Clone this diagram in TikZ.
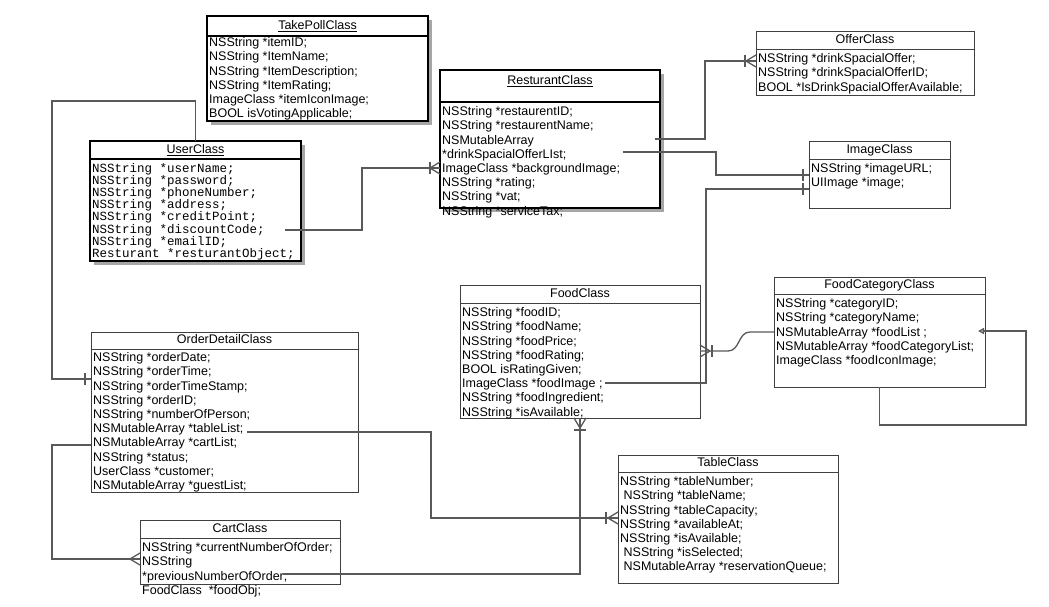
\documentclass[tikz,border=0pt]{standalone}
\usepackage{fontspec}
\setmainfont{Liberation Sans}
\setmonofont{Liberation Mono}
\usetikzlibrary{positioning,arrows.meta,shadows}

\newcommand{\classfont}{\fontsize{12.5}{14.2}\selectfont}
\newcommand{\codefont}{\ttfamily\fontsize{12.5}{12.2}\selectfont}

\tikzset{
  classhead/.style={draw=black!75, fill=white, line width=0.9pt, inner sep=0pt, outer sep=0pt, font=\classfont, text height=9pt, text depth=2.5pt},
  classbody/.style={draw=black!75, fill=white, line width=0.9pt, inner sep=0pt, outer sep=0pt},
  boldclass/.style={draw=black, line width=2pt, drop shadow={shadow xshift=4pt, shadow yshift=-4pt, fill=black!35, opacity=1}},
  fields/.style={align=left, inner xsep=2pt, inner ysep=4.5pt, font=\classfont},
  conn/.style={draw=black!65, line width=1.3pt},
  pics/crowsfoot/.style={code={\draw[conn] (-10,0) -- (0,6) (-10,0) -- (0,-6);}},
  pics/onemark/.style={code={\draw[conn] (-#1,-6) -- (-#1,6);}},
}

\begin{document}
\begin{tikzpicture}[x=1pt, y=-1pt]
    \useasboundingbox (0,0) rectangle (1049,606);

    % TakePollClass
    \node (takepollhead) [classhead, boldclass, anchor=north west, minimum width=221pt, minimum height=20pt] at (207,16) {\underline{TakePollClass}};
    \node (takepollbody) [classbody, boldclass, below=0pt of takepollhead, minimum width=221pt, minimum height=85pt] {};
    \node (takepollfields) [fields, inner ysep=1.5pt, below right=0pt and 0pt of takepollbody.north west] {NSString *itemID;\\NSString *ItemName;\\NSString *ItemDescription;\\NSString *ItemRating;\\ImageClass *itemIconImage;\\BOOL isVotingApplicable;};

    % UserClass
    \node (userhead) [classhead, boldclass, anchor=north west, minimum width=211pt, minimum height=18pt] at (90,141) {\underline{UserClass}};
    \node (userbody) [classbody, boldclass, below=0pt of userhead, minimum width=211pt, minimum height=102pt] {};
    \node (userfields) [fields, font=\codefont, inner ysep=3.8pt, below right=0pt and 0pt of userbody.north west] {NSString *userName;\\NSString *password;\\NSString *phoneNumber;\\NSString *address;\\NSString *creditPoint;\\NSString *discountCode;\\NSString *emailID;\\Resturant *resturantObject;};

    % ResturantClass
    \node (resthead) [classhead, boldclass, anchor=north west, minimum width=220pt, minimum height=32pt, text height=10pt, text depth=13.4pt] at (440,70) {\underline{ResturantClass}};
    \node (restbody) [classbody, boldclass, below=0pt of resthead, minimum width=220pt, minimum height=106pt] {};
    \node (restfields) [fields, below right=0pt and 0pt of restbody.north west] {NSString *restaurentID;\\NSString *restaurentName;\\NSMutableArray\\{}*drinkSpacialOfferLIst;\\ImageClass *backgroundImage;\\NSString *rating;\\NSString *vat;\\NSString *serviceTax;};

    % OfferClass
    \node (offerhead) [classhead, anchor=north west, minimum width=218pt, minimum height=18pt] at (756,31) {OfferClass};
    \node (offerbody) [classbody, below=0pt of offerhead, minimum width=218pt, minimum height=46pt] {};
    \node (offerfields) [fields, below right=0pt and 0pt of offerbody.north west] {NSString *drinkSpacialOffer;\\NSString *drinkSpacialOfferID;\\BOOL *IsDrinkSpacialOfferAvailable;};

    % ImageClass
    \node (imagehead) [classhead, anchor=north west, minimum width=141pt, minimum height=18pt] at (809,141) {ImageClass};
    \node (imagebody) [classbody, below=0pt of imagehead, minimum width=141pt, minimum height=49pt] {};
    \node (imagefields) [fields, below right=0pt and 0pt of imagebody.north west] {NSString *imageURL;\\UIImage *image;};

    % FoodClass
    \node (foodhead) [classhead, anchor=north west, minimum width=240pt, minimum height=18pt] at (460,285) {FoodClass};
    \node (foodbody) [classbody, below=0pt of foodhead, minimum width=240pt, minimum height=115pt] {};
    \node (foodfields) [fields, below right=0pt and 0pt of foodbody.north west] {NSString *foodID;\\NSString *foodName;\\NSString *foodPrice;\\NSString *foodRating;\\BOOL isRatingGiven;\\ImageClass *foodImage ;\\NSString *foodIngredient;\\NSString *isAvailable;};

    % FoodCategoryClass
    \node (cathead) [classhead, anchor=north west, minimum width=211pt, minimum height=17pt] at (774,277) {FoodCategoryClass};
    \node (catbody) [classbody, below=0pt of cathead, minimum width=211pt, minimum height=93pt] {};
    \node (catfields) [fields, below right=0pt and 0pt of catbody.north west] {NSString *categoryID;\\NSString *categoryName;\\NSMutableArray *foodList ;\\NSMutableArray *foodCategoryList;\\ImageClass *foodIconImage;};

    % OrderDetailClass
    \node (orderhead) [classhead, anchor=north west, minimum width=267pt, minimum height=17pt] at (91,332) {OrderDetailClass};
    \node (orderbody) [classbody, below=0pt of orderhead, minimum width=267pt, minimum height=143pt] {};
    \node (orderfields) [fields, inner ysep=3.5pt, below right=0pt and 0pt of orderbody.north west] {NSString *orderDate;\\NSString *orderTime;\\NSString *orderTimeStamp;\\NSString *orderID;\\NSString *numberOfPerson;\\NSMutableArray *tableList;\\NSMutableArray *cartList;\\NSString *status;\\UserClass *customer;\\NSMutableArray *guestList;};

    % TableClass
    \node (tablehead) [classhead, anchor=north west, minimum width=220pt, minimum height=17pt] at (618,455) {TableClass};
    \node (tablebody) [classbody, below=0pt of tablehead, minimum width=220pt, minimum height=111pt] {};
    \node (tablefields) [fields, below right=0pt and 0pt of tablebody.north west] {NSString *tableNumber;\\\hspace*{3.5pt}NSString *tableName;\\NSString *tableCapacity;\\NSString *availableAt;\\NSString *isAvailable;\\\hspace*{3.5pt}NSString *isSelected;\\\hspace*{3.5pt}NSMutableArray *reservationQueue;};

    % CartClass
    \node (carthead) [classhead, anchor=north west, minimum width=200pt, minimum height=18pt] at (140,520) {CartClass};
    \node (cartbody) [classbody, below=0pt of carthead, minimum width=200pt, minimum height=46pt] {};
    \node (cartfields) [fields, below right=0pt and 0pt of cartbody.north west] {NSString *currentNumberOfOrder;\\NSString\\{}*previousNumberOfOrder;\\FoodClass\ \ *foodObj;};

    % free ends and bends of the connectors
    \coordinate (userbend) at (52,101);
    \coordinate (userorder) at (52,379);
    \coordinate (userdisc) at (285,230);
    \coordinate (userrest) at (362,168);
    \coordinate (restdrink) at (655,139);
    \coordinate (restoffer) at (705,61);
    \coordinate (restbg) at (623,152);
    \coordinate (restimage) at (716,175);
    \coordinate (foodimg) at (605,383);
    \coordinate (foodimage) at (706,189);
    \coordinate (catcurve) at (750,332);
    \coordinate (foodcurve) at (728,351);
    \coordinate (catloop) at (1026,425);
    \coordinate (catloopend) at (978,331);
    \coordinate (ordertable) at (247,432);
    \coordinate (ordertablebend) at (431,518);
    \coordinate (ordercart) at (52,445);
    \coordinate (ordercartbend) at (52,559);
    \coordinate (cartprev) at (283,574);

    % UserClass -- OrderDetailClass
    \draw [conn] (userhead.north) |- (userbend) -- (userorder) -- (orderbody.west |- userorder);
    \pic at (orderbody.west |- userorder) {onemark=6};

    % UserClass -- ResturantClass
    \draw [conn] (userdisc) -| (userrest) -- (restbody.west |- userrest);
    \pic at (restbody.west |- userrest) {crowsfoot};
    \pic at (restbody.west |- userrest) {onemark=10};

    % ResturantClass -- OfferClass
    \draw [conn] (restdrink) -| (restoffer) -- (offerbody.west |- restoffer);
    \pic at (offerbody.west |- restoffer) {crowsfoot};
    \pic at (offerbody.west |- restoffer) {onemark=11};

    % ResturantClass -- ImageClass
    \draw [conn] (restbg) -| (restimage) -- (imagebody.west |- restimage);
    \pic at (imagebody.west |- restimage) {onemark=6};

    % FoodClass -- ImageClass
    \draw [conn] (foodimg) -| (foodimage) -- (imagebody.west |- foodimage);
    \pic at (imagebody.west |- foodimage) {onemark=6};

    % FoodCategoryClass -- FoodClass
    \draw [conn] (catbody.west |- catcurve) -- (catcurve) .. controls +(-12,0) and +(12,0) .. (foodcurve) -- (foodbody.east |- foodcurve);
    \pic [xscale=-1] at (foodbody.east |- foodcurve) {crowsfoot};
    \pic [xscale=-1] at (foodbody.east |- foodcurve) {onemark=12};

    % FoodCategoryClass -- itself
    \draw [conn, -{Triangle[open, length=6pt, width=6pt]}] (catbody.south) |- (catloop) |- (catloopend);

    % OrderDetailClass -- TableClass
    \draw [conn] (ordertable) -| (ordertablebend) -- (tablebody.west |- ordertablebend);
    \pic at (tablebody.west |- ordertablebend) {crowsfoot};
    \pic at (tablebody.west |- ordertablebend) {onemark=12};

    % OrderDetailClass -- CartClass
    \draw [conn] (orderbody.west |- ordercart) -- (ordercart) -- (ordercartbend) -- (cartbody.west |- ordercartbend);
    \pic at (cartbody.west |- ordercartbend) {crowsfoot};

    % CartClass -- FoodClass
    \draw [conn] (cartprev) -| (foodbody.south);
    \pic [rotate=90] at (foodbody.south) {crowsfoot};
    \pic [rotate=90] at (foodbody.south) {onemark=12};
  \end{tikzpicture}
\end{document}
